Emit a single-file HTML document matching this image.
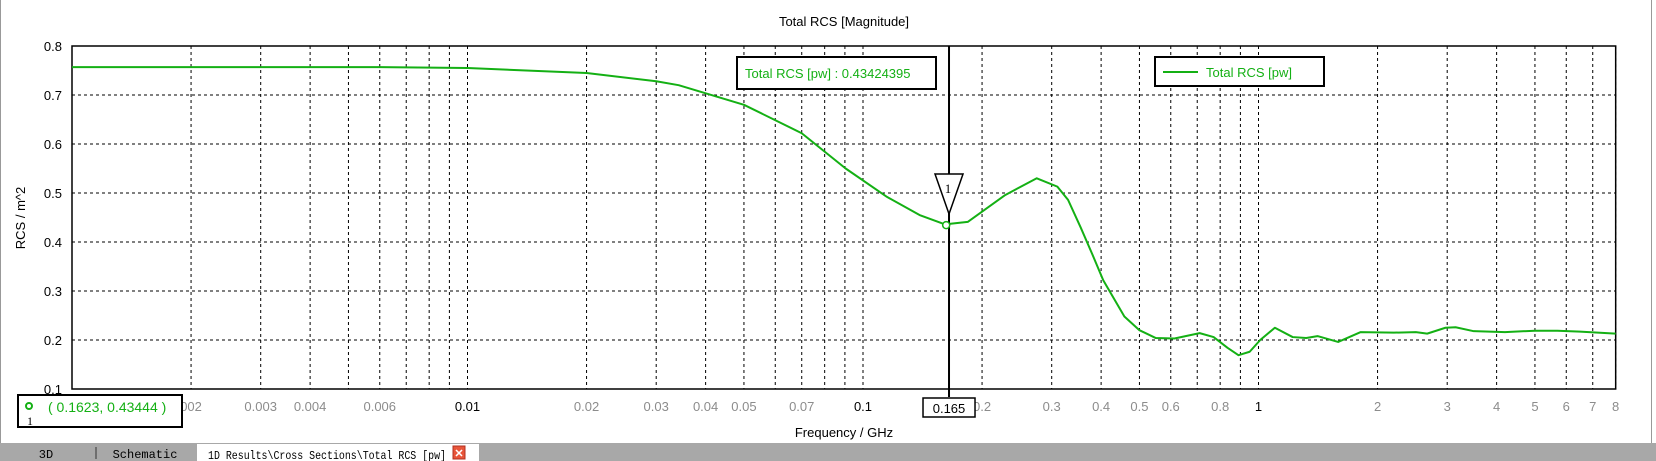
<!DOCTYPE html>
<html><head><meta charset="utf-8"><style>
html,body{margin:0;padding:0;background:#fff;}
svg{display:block;font-family:"Liberation Sans",sans-serif;}
</style></head><body>
<svg id="chart" width="1656" height="461">
<rect x="0" y="0" width="1656" height="461" fill="#fff"/>
<line x1="0.5" y1="0" x2="0.5" y2="444" stroke="#999"/>
<line x1="1651.5" y1="0" x2="1651.5" y2="444" stroke="#999"/>
<text x="844" y="26" font-size="13" text-anchor="middle" fill="#000">Total RCS [Magnitude]</text>
<text transform="translate(25,218) rotate(-90)" font-size="13" text-anchor="middle">RCS / m^2</text>
<text x="844" y="437" font-size="13" text-anchor="middle">Frequency / GHz</text>
<g id="grid"></g><g id="ticks"></g><g id="series"></g><g id="overlay"></g>
</svg>
<script>
const freqs=[0.001,0.003,0.006,0.01,0.02,0.03,0.0342,0.05,0.07,0.0904,0.115,0.139,0.161,0.184,0.229,0.275,0.31,0.33,0.355,0.38,0.405,0.458,0.5,0.55,0.613,0.71,0.77,0.835,0.89,0.95,1.01,1.1,1.22,1.32,1.41,1.59,1.81,2.2,2.5,2.67,2.97,3.15,3.5,4.2,5.0,5.7,6.5,8];
const rcs=[0.757,0.757,0.757,0.755,0.745,0.728,0.72,0.68,0.622,0.55,0.492,0.455,0.436,0.441,0.496,0.53,0.513,0.486,0.43,0.375,0.322,0.248,0.22,0.204,0.203,0.214,0.206,0.184,0.169,0.176,0.2,0.225,0.206,0.204,0.208,0.196,0.216,0.215,0.216,0.213,0.225,0.226,0.218,0.216,0.219,0.219,0.217,0.213];
const yTicks=[0.1,0.2,0.3,0.4,0.5,0.6,0.7,0.8];
const xTickLabels=["002","0.003","0.004","0.006","0.01","0.02","0.03","0.04","0.05","0.07","0.1","0.2","0.3","0.4","0.5","0.6","0.8","1","2","3","4","5","6","7","8"];
const xTickVals=[0.002,0.003,0.004,0.006,0.01,0.02,0.03,0.04,0.05,0.07,0.1,0.2,0.3,0.4,0.5,0.6,0.8,1,2,3,4,5,6,7,8];
const cursorF=0.165, cursorVal=0.43424395, markerF=0.1623, markerV=0.43444;
const X0=72,DEC=395.5,LX0=-3,Y0=46,Y1=389,XR=X0+DEC*(Math.log10(8)-LX0);
const x=f=>X0+DEC*(Math.log10(f)-LX0);
const y=v=>Y0+(0.8-v)/0.7*(Y1-Y0);
const NS="http://www.w3.org/2000/svg";
function mk(t,a,p){const e=document.createElementNS(NS,t);for(const k in a)e.setAttribute(k,a[k]);p.appendChild(e);return e;}
const grid=document.getElementById('grid'),ticks=document.getElementById('ticks');
for(let d=-3;d<=0;d++)for(let m=1;m<=9;m++){const f=m*Math.pow(10,d);if(f<=0.001||f>8)continue;
 const l=mk('line',{x1:x(f),y1:Y0,x2:x(f),y2:Y1,stroke:'#000','stroke-dasharray':'3,3','stroke-width':1},grid);
 
 }
yTicks.forEach(v=>{if(v>0.1&&v<0.8){const l=mk('line',{x1:X0,y1:y(v),x2:XR,y2:y(v),stroke:'#000','stroke-dasharray':'3,3'},grid);
 
 }
 const t=mk('text',{x:X0-10,y:y(v)+5,'font-size':13,'text-anchor':'end'},ticks);t.textContent=v.toFixed(1);
 
 });
mk('rect',{x:X0,y:Y0,width:XR-X0,height:Y1-Y0,fill:'none',stroke:'#000','stroke-width':1.5},grid);
xTickVals.forEach((f,i)=>{const major=[0.01,0.1,1].includes(f);
 const t=mk('text',{x:x(f),y:411,'font-size':13,'text-anchor':'middle',fill:major?'#000':'#8c8c8c'},ticks);t.textContent=xTickLabels[i];
 
 });
const p=mk('polyline',{points:freqs.map((f,i)=>x(f)+','+y(rcs[i])).join(' '),fill:'none',stroke:'#14b014','stroke-width':2,'stroke-linejoin':'round'},document.getElementById('series'));


const ov=document.getElementById('overlay');
const cx=x(cursorF);
const cl=mk('line',{x1:cx,y1:Y0,x2:cx,y2:Y1+8,stroke:'#000','stroke-width':2},ov);


const mc=mk('circle',{cx:x(markerF),cy:y(markerV),r:3.5,fill:'#fff',stroke:'#14b014','stroke-width':1.5},ov);


const tri=mk('polygon',{points:`${cx-14},174 ${cx+14},174 ${cx},214`,fill:'#fff',stroke:'#000','stroke-width':1.5},ov);


const tn=mk('text',{x:cx-1,y:193,'font-size':13,'text-anchor':'middle','font-family':'Liberation Serif'},ov);tn.textContent='1';


const cb=mk('rect',{x:cx-26,y:398,width:52,height:19,fill:'#fff',stroke:'#000','stroke-width':1.5},ov);


const ct=mk('text',{x:cx,y:413,'font-size':13,'text-anchor':'middle'},ov);ct.textContent=String(cursorF);


const ab=mk('rect',{x:737,y:57,width:199,height:32,fill:'#fff',stroke:'#000','stroke-width':2},ov);


const at=mk('text',{x:745,y:78,'font-size':13,fill:'#14b014'},ov);at.textContent='Total RCS [pw] : '+cursorVal;


const lb=mk('rect',{x:1155,y:57,width:169,height:29,fill:'#fff',stroke:'#000','stroke-width':2},ov);


const ll=mk('line',{x1:1163,y1:72,x2:1198,y2:72,stroke:'#14b014','stroke-width':2},ov);


const lt=mk('text',{x:1206,y:77,'font-size':13,fill:'#14b014'},ov);lt.textContent='Total RCS [pw]';


const mb=mk('rect',{x:18,y:395,width:164,height:32,fill:'#fff',stroke:'#000','stroke-width':2},ov);


const mi=mk('circle',{cx:29,cy:406,r:3,fill:'none',stroke:'#14b014','stroke-width':2},ov);


const mn=mk('text',{x:27,y:425,'font-size':12,'font-family':'Liberation Serif'},ov);mn.textContent='1';


const mt=mk('text',{x:48,y:412,'font-size':14,fill:'#14b014'},ov);mt.textContent='( '+markerF+', '+markerV+' )';


// tab bar
const tb=mk('rect',{x:0,y:443,width:1656,height:18,fill:'#a8a8a8'},ov);


const t3=mk('text',{x:46,y:458,'font-size':12,'font-family':'Liberation Mono','text-anchor':'middle'},ov);t3.textContent='3D';


mk('line',{x1:96,y1:447,x2:96,y2:459,stroke:'#333'},ov);
const ts=mk('text',{x:145,y:458,'font-size':12,'font-family':'Liberation Mono','text-anchor':'middle'},ov);ts.textContent='Schematic';


const ta=mk('rect',{x:197,y:444,width:282,height:17,fill:'#fff'},ov);


const tt=mk('text',{x:208,y:459,'font-size':12,'font-family':'Liberation Mono',textLength:238,lengthAdjust:'spacingAndGlyphs'},ov);tt.textContent='1D Results\\Cross Sections\\Total RCS [pw]';


const tc=mk('rect',{x:453,y:446,width:12,height:13,fill:'#e8553a',stroke:'#b03020'},ov);


const tx=mk('text',{x:459,y:457,'font-size':11,'text-anchor':'middle',fill:'#fff','font-weight':'bold'},ov);tx.textContent='✕';


</script>
</body></html>
